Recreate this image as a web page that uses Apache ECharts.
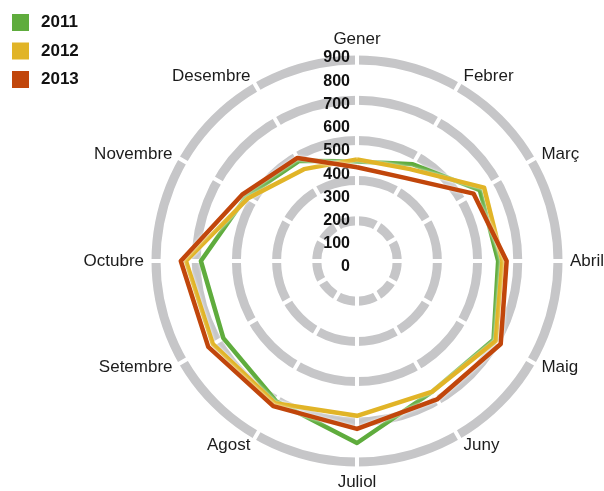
<html>
<head>
<meta charset="utf-8">
<script type="text/javascript" src="https://cdn.jsdelivr.net/npm/echarts@6/dist/echarts.min.js"></script>
<style type="text/css">
	body { margin: 0; background: #fff; }
	#chart { width: 604px; height: 491px; }
</style>
<title>Radar</title>
</head>
<body>
	<div id="chart"></div>

	<script type="text/javascript">
// months go clockwise from the top
var months = ['Gener', 'Febrer', 'Març', 'Abril', 'Maig', 'Juny', 'Juliol', 'Agost', 'Setembre', 'Octubre', 'Novembre', 'Desembre'];
var years = ['2011', '2012', '2013'];
var v2011 = [445, 500, 635, 632, 706, 675, 815, 725, 691, 699, 574, 518];
var v2012 = [455, 475, 657, 651, 717, 675, 693, 735, 745, 766, 563, 475];
var v2013 = [420, 430, 603, 670, 743, 716, 752, 750, 769, 789, 594, 533];
var maxValue = 900;
var colors = ['#5fac3d', '#e1b427', '#c1460b'];

// echarts lays indicators out counter-clockwise, so reverse all but the first
var order = [0];
for (var i = months.length - 1; i > 0; i--) {
	order.push(i);
}
function reorder(arr) {
	return order.map(function (k) { return arr[k]; });
}

var cx = 357, cy = 261;

function indicators(withNames, withLabel) {
	return reorder(months).map(function (m, idx) {
		var ind = { name: withNames ? m : '', max: maxValue, min: 0 };
		if (withLabel && idx === 0) {
			ind.axisLabel = { show: true };
		}
		return ind;
	});
}

var option = {
	animation: false,
	legend: {
		orient: 'vertical',
		left: 7,
		top: 9,
		itemWidth: 17,
		itemHeight: 17,
		itemGap: 11.5,
		icon: 'rect',
		data: years,
		textStyle: {
			fontFamily: 'Liberation Sans',
			fontWeight: 'bold',
			fontSize: 17,
			color: '#111',
			padding: [0, 0, 0, 7]
		}
	},
	graphic: [{
		type: 'circle',
		shape: { cx: cx, cy: cy, r: 4 },
		style: { fill: '#c6c6c8' },
		z: 1
	}],
	radar: [
		{
			// grey rings
			center: [cx, cy],
			radius: 201,
			shape: 'circle',
			splitNumber: 5,
			z: 0,
			indicator: indicators(false, false),
			axisName: { show: false },
			axisLine: { show: false },
			splitArea: { show: false },
			splitLine: { lineStyle: { color: '#c6c6c8', width: 9 } }
		},
		{
			// white spokes and month names
			center: [cx, cy],
			radius: 208,
			shape: 'circle',
			splitNumber: 5,
			z: 1,
			nameGap: 5,
			indicator: indicators(true, false),
			axisName: {
				color: '#1c1c1c',
				fontFamily: 'Liberation Sans',
				fontSize: 17
			},
			axisLine: { lineStyle: { color: '#ffffff', width: 4 } },
			splitArea: { show: false },
			splitLine: { show: false }
		},
		{
			// value labels 0..900
			center: [cx, cy + 6],
			radius: 209,
			shape: 'circle',
			splitNumber: 9,
			z: 1,
			indicator: indicators(false, true),
			axisName: { show: false },
			axisLine: { show: false },
			splitArea: { show: false },
			splitLine: { show: false },
			axisLabel: {
				show: false,
				margin: 7,
				color: '#111',
				fontFamily: 'Liberation Sans',
				fontWeight: 'bold',
				fontSize: 16
			}
		}
	],
	series: [{
		type: 'radar',
		radarIndex: 0,
		symbol: 'none',
		data: [v2011, v2012, v2013].map(function (vals, k) {
			return {
				name: years[k],
				value: reorder(vals),
				itemStyle: { color: colors[k] },
				lineStyle: {
					color: colors[k],
					width: 4.5,
					shadowColor: '#ffffff',
					shadowBlur: 3
				}
			};
		})
	}]
};

var myChart = echarts.init(document.getElementById('chart'));
myChart.setOption(option);
</script>
</body>
</html>
